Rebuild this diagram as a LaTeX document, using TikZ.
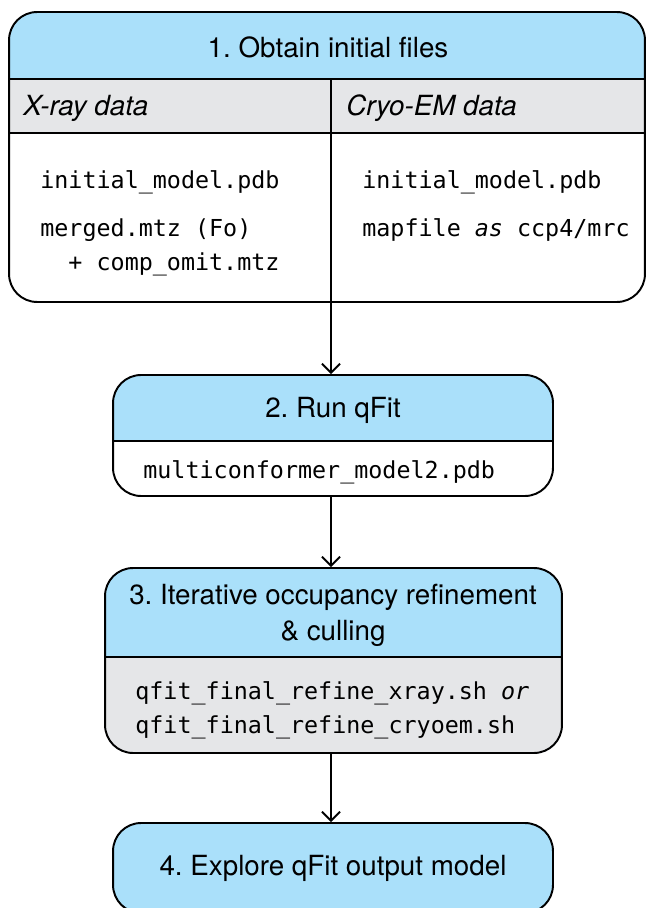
\documentclass[tikz,border=0pt]{standalone}
\usepackage{fontspec}
\setmainfont{TeX Gyre Heros}
\setmonofont{DejaVu Sans Mono}
\usetikzlibrary{arrows.meta}
\definecolor{qblue}{RGB}{170,224,250}
\definecolor{qgray}{RGB}{229,230,232}
\frenchspacing
\tikzset{
 stage/.style={draw,line width=1.1pt,rounded corners=0.56cm,inner sep=0pt,fill=white},
 headfill/.style={path picture={\fill[qblue,sharp corners](path picture bounding box.north west) rectangle ([yshift=-#1]path picture bounding box.north east);}},
 sep/.style={line width=1.1pt},
 title/.style={font=\fontsize{15.8}{20.5}\selectfont,align=center,inner sep=0pt},
 colhead/.style={font=\fontsize{15.8}{19}\selectfont\itshape,anchor=west,inner sep=0pt},
 file/.style={font=\fontsize{13.3}{16}\selectfont\ttfamily,anchor=west,inner sep=0pt},
 flow/.style={line width=1.1pt,-{Straight Barb[length=0.18cm,width=0.36cm]}},
}
\begin{document}
\begin{tikzpicture}[x=0.02cm,y=-0.02cm]
\useasboundingbox (0,0) rectangle (647,908);
% boxes
\node[stage,minimum width=12.72cm,minimum height=5.8cm,
 path picture={\fill[qblue,sharp corners](path picture bounding box.north west) rectangle ([yshift=-1.36cm]path picture bounding box.north east);
 \fill[qgray,sharp corners]([yshift=-1.36cm]path picture bounding box.north west) rectangle ([yshift=-2.44cm]path picture bounding box.north east);}]
 (b1) at (327,157) {};
\node[stage,headfill=1.34cm,minimum width=8.8cm,minimum height=2.42cm] (b2) at (333,435.5) {};
\node[stage,headfill=1.8cm,fill=qgray,minimum width=9.14cm,minimum height=3.7cm] (b3) at (333.5,660.5) {};
\node[stage,fill=qblue,minimum width=8.8cm,minimum height=1.8cm] (b4) at (333,868) {};
% separators
\draw[sep]([yshift=-1.36cm]b1.north west)--([yshift=-1.36cm]b1.north east);
\draw[sep]([yshift=-2.44cm]b1.north west)--([yshift=-2.44cm]b1.north east);
\draw[sep]([yshift=-1.34cm]b2.north west)--([yshift=-1.34cm]b2.north east);
\draw[sep]([yshift=-1.8cm]b3.north west)--([yshift=-1.8cm]b3.north east);
\coordinate (split) at (331,80);
\draw[sep](split)--(split |- b1.south);
% titles
\node[title] (t1) at (328,47) {1. Obtain initial files};
\node[title] (t2) at (333,410) {2. Run qFit};
\node[title] (t3) at (333,615) {3. Iterative occupancy refinement\\\& culling};
\node[title] (t4) at (333,868) {4. Explore qFit output model};
\node[colhead] (xray) at (23,108) {X-ray data};
\node[colhead] (cryo) at (346,108) {Cryo-EM data};
% file names
\foreach \ly/\txt [count=\i] in {182/initial\_model.pdb,230/merged.mtz (Fo),264/\ \ + comp\_omit.mtz}{\node[file] (xf\i) at (40,\ly) {\txt};}
\foreach \ly/\txt [count=\i] in {182/initial\_model.pdb,230/{mapfile \textit{as} ccp4/mrc}}{\node[file] (cf\i) at (362,\ly) {\txt};}
\node[file] (qf) at (143,472) {multiconformer\_model2.pdb};
\node[file] (rf1) at (135,693) {qfit\_final\_refine\_xray.sh \textit{or}};
\node[file] (rf2) at (135,727) {qfit\_final\_refine\_cryoem.sh};
% arrows
\draw[flow](split |- b1.south)--(split |- b2.north);
\draw[flow](split |- b2.south)--(split |- b3.north);
\draw[flow](split |- b3.south)--(split |- b4.north);
\end{tikzpicture}
\end{document}
